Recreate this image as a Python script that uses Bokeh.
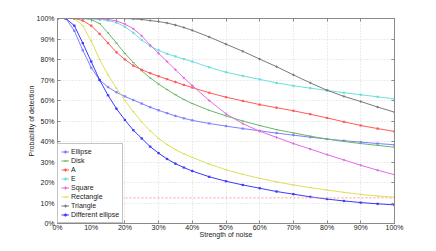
from bokeh.plotting import figure
from bokeh.models import (LinearAxis, Legend, LegendItem, Span, FixedTicker,
                          Range1d, PrintfTickFormatter, CustomJSTickFormatter)
from bokeh.embed import file_html
from bokeh.resources import INLINE

noise = [0, 2.5, 5, 7.5, 10, 12.5, 15, 17.5, 20, 22.5, 25, 27.5, 30, 32.5, 35,
         37.5, 40, 45, 50, 55, 60, 65, 70, 75, 80, 85, 90, 95, 100]

ellipse = [100, 100, 94, 84.5, 76, 70, 66.5, 64, 62, 60.2, 58.5, 56.7, 55.2, 53.8,
           52.5, 51.3, 50.3, 48.8, 47.5, 46.3, 45.2, 44.1, 43.1, 42.1, 41.2, 40.4,
           39.7, 39, 38.4]
disk = [100, 100, 100, 100, 99.5, 97.5, 93, 88, 83, 78.5, 74.5, 71, 68, 65.3, 62.8,
        60.5, 58.5, 55.2, 52.5, 50, 47.8, 45.8, 44.2, 42.6, 41.2, 40, 39, 38.1, 37.2]
a_shape = [100, 100, 100, 99, 96.5, 92.5, 88, 83.5, 80, 77, 75, 73.3, 71.8, 70.4, 69,
           67.6, 66.3, 63.8, 61.6, 59.8, 58, 56.5, 55, 53.3, 51.5, 49.6, 47.8, 46.3, 44.9]
e_shape = [100, 100, 100, 100, 99.8, 99.5, 99, 98, 96, 93, 89.5, 86.5, 84.5, 82.8, 81.5,
           80.2, 79, 76.2, 73.8, 72, 70.3, 68.6, 67.2, 66, 64.9, 63.8, 62.8, 61.8, 60.8]
square = [100, 100, 100, 100, 100, 99.8, 99.5, 98.8, 97.3, 95, 91.5, 87, 83, 79, 75,
          71, 67.3, 60, 53.5, 48.7, 45, 42, 39, 36.3, 33.6, 31, 28.4, 26, 23.8]
rectangle = [100, 100, 100, 96.5, 89, 80, 72.5, 66, 60, 54.5, 49.5, 45.2, 41.5, 38.5,
             36, 34, 32.2, 29, 26.2, 24, 22, 20.3, 18.8, 17.5, 16.3, 15.2, 14.2, 13.4, 12.8]
triangle = [100, 100, 100, 100, 100, 100, 100, 100, 100, 99.8, 99.5, 99, 98.5, 97.8,
            96.8, 95.6, 94.2, 91, 87.5, 84, 80.2, 76.5, 72.5, 68.6, 65, 62, 59.5, 56.8, 54.3]
diff_ellipse = [100, 100, 96.5, 88, 79, 70, 62.5, 56, 50.5, 45.5, 41.5, 37.5, 34.3,
                31.5, 29.2, 27.3, 25.6, 22.8, 20.6, 18.8, 17.2, 15.6, 14.3, 13, 11.9,
                11, 10.2, 9.6, 9.1]
chance_level = 12.5

ticks = [0, 10, 20, 30, 40, 50, 60, 70, 80, 90, 100]

series = [
    ("Ellipse", ellipse, "#7f7fff", "asterisk"),
    ("Disk", disk, "#66b866", "dash"),
    ("A", a_shape, "#ff5a5a", "asterisk"),
    ("E", e_shape, "#6fdede", "asterisk"),
    ("Square", square, "#e46be4", "cross"),
    ("Rectangle", rectangle, "#dede5a", "dash"),
    ("Triangle", triangle, "#7a7a7a", "cross"),
    ("Different ellipse", diff_ellipse, "#3a3aff", "asterisk"),
]

FONT = "Liberation Sans"

p = figure(frame_width=337, frame_height=205, output_backend="svg",
           toolbar_location=None, x_range=Range1d(0, 100), y_range=Range1d(0, 100),
           min_border_left=57, min_border_right=34, min_border_top=18,
           min_border_bottom=18, background_fill_color="white",
           border_fill_color="white")
p.outline_line_color = "#8a8a8a"

for ax in (p.xaxis[0], p.yaxis[0]):
    ax.ticker = FixedTicker(ticks=ticks)
    ax.formatter = PrintfTickFormatter(format="%d%%")
    ax.major_label_text_font = FONT
    ax.major_label_text_font_size = "7px"
    ax.major_label_text_color = "#222222"
    ax.axis_label_text_font = FONT
    ax.axis_label_text_font_size = "7px"
    ax.axis_label_text_font_style = "normal"
    ax.axis_label_text_color = "#222222"
    ax.axis_line_color = "#8a8a8a"
    ax.major_tick_line_color = "#8a8a8a"
    ax.major_tick_in = 3
    ax.major_tick_out = 0
    ax.minor_tick_line_color = None

p.xaxis.axis_label = "Strength of noise"
p.yaxis.axis_label = "Probability of detection"
p.xaxis.major_label_standoff = 0
p.xaxis.axis_label_standoff = -3
p.yaxis.major_label_standoff = 3
p.yaxis.axis_label_standoff = -1

for loc in ("right", "above"):
    ax = LinearAxis(ticker=FixedTicker(ticks=ticks),
                    formatter=CustomJSTickFormatter(code="return ''"),
                    major_label_standoff=0, axis_line_color="#8a8a8a",
                    major_tick_line_color="#8a8a8a", major_tick_in=3,
                    major_tick_out=0, minor_tick_line_color=None)
    p.add_layout(ax, loc)

p.xgrid.ticker = FixedTicker(ticks=ticks)
p.ygrid.ticker = FixedTicker(ticks=ticks)
p.grid.grid_line_color = "#d8d8d8"
p.grid.grid_line_dash = "1 2"

p.add_layout(Span(location=chance_level, dimension="width", line_color="#ff9c9c",
                  line_dash="2 2", line_width=1))

items = []
for name, vals, color, marker in series:
    r1 = p.line(noise, vals, line_color=color, line_width=1)
    r2 = p.scatter(noise, vals, marker=marker, size=2.5, line_color=color,
                   fill_color=color, line_width=1)
    items.append(LegendItem(label=name, renderers=[r1, r2]))

legend = Legend(items=items, location="bottom_left", margin=0, padding=3, spacing=0,
                label_text_font=FONT, label_text_font_size="7px",
                label_text_color="#222222", label_height=9, glyph_height=9,
                glyph_width=8, label_standoff=2, border_line_color="#8a8a8a",
                background_fill_color="white", background_fill_alpha=1.0)
p.add_layout(legend)

open("out.html", "w").write(file_html(p, INLINE))
